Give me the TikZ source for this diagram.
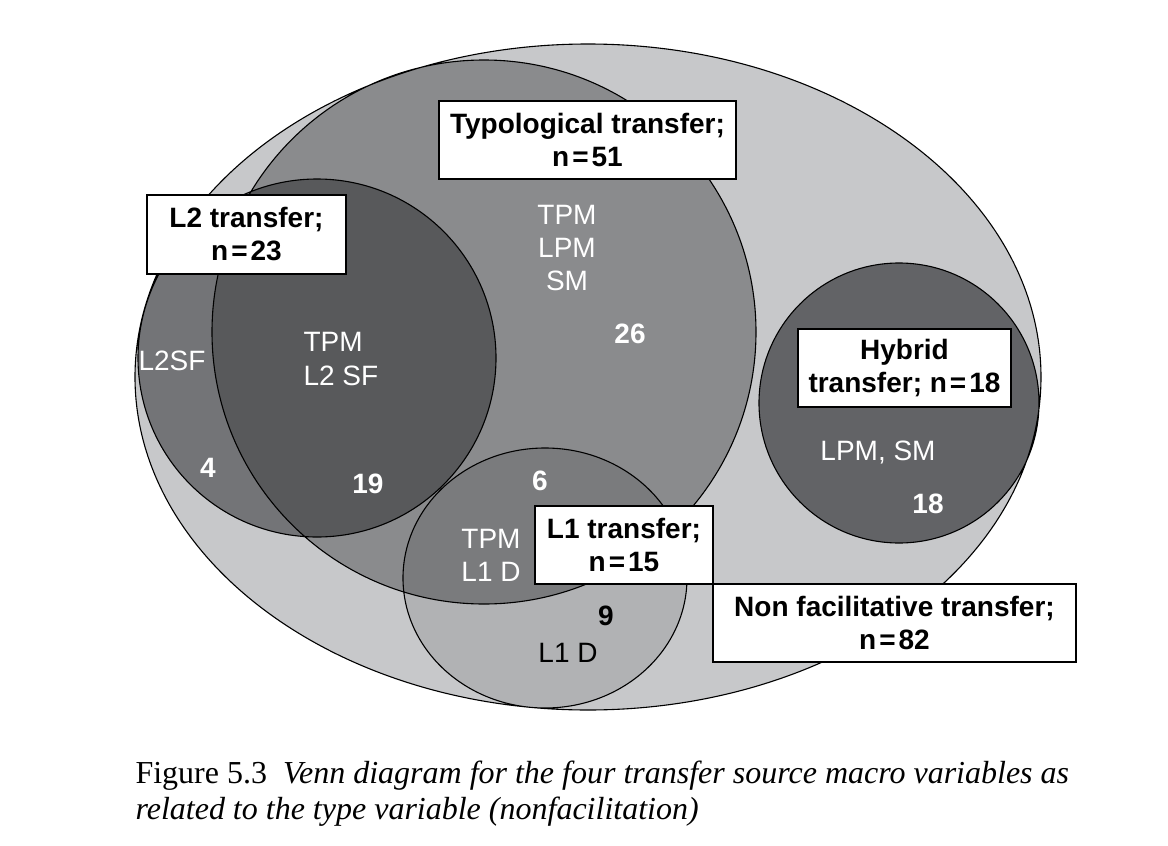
\documentclass[tikz,border=0pt]{standalone}
\usepackage{fontspec}
\setmainfont{Liberation Serif}
\setsansfont{Liberation Sans}
\usetikzlibrary{positioning}

\definecolor{nonfacgray}{HTML}{C7C8CA}
\definecolor{typogray}{HTML}{8A8B8D}
\definecolor{ltwogray}{HTML}{737477}
\definecolor{ltwotypogray}{HTML}{58595B}
\definecolor{lonegray}{HTML}{B1B2B4}
\definecolor{lonetypogray}{HTML}{7A7B7D}
\definecolor{hybridgray}{HTML}{626366}

\newcommand{\nonfacset}{(588,377) ellipse [x radius=453pt, y radius=333pt]}
\newcommand{\typoset}{(484,332) circle [radius=272pt]}
\newcommand{\ltwoset}{(317,358) circle [radius=179pt]}
\newcommand{\loneset}{(545,578) ellipse [x radius=142pt, y radius=130pt]}
\newcommand{\hybridset}{(899,403) circle [radius=140pt]}

\begin{document}
\begin{tikzpicture}[x=1pt, y=-1pt, line width=1.1pt]
      \tikzstyle{setbox}=[draw=black, fill=white, align=center, inner sep=0pt,
                          font=\sffamily\bfseries\fontsize{28}{33}\selectfont]
      \tikzstyle{setlabel}=[text=white, inner sep=0pt, font=\sffamily\fontsize{28}{33}\selectfont]
      \tikzstyle{setcount}=[text=white, inner sep=0pt, font=\sffamily\bfseries\fontsize{28}{33}\selectfont]
      \useasboundingbox (0,0) rectangle (1168,846);

      % filled regions
      \fill[nonfacgray] \nonfacset;
      \fill[typogray] \typoset;
      \fill[ltwogray] \ltwoset;
      \fill[lonegray] \loneset;
      \begin{scope}
        \clip \typoset;
        \fill[ltwotypogray] \ltwoset;
        \fill[lonetypogray] \loneset;
      \end{scope}
      \fill[hybridgray] \hybridset;

      % outlines
      \draw \nonfacset \typoset \ltwoset \loneset \hybridset;

      % set names
      \node[setbox, minimum width=297pt, minimum height=78pt] (typobox)   at (587.5,140) {Typological transfer;\\n\kern3pt=\kern3pt51};
      \node[setbox, minimum width=199pt, minimum height=79pt] (ltwobox)   at (246.5,234.5) {L2 transfer;\\n\kern3pt=\kern3pt23};
      \node[setbox, minimum width=213pt, minimum height=78pt] (hybridbox) at (904.5,368) {Hybrid\\transfer; n\kern3pt=\kern3pt18};
      \node[setbox, minimum width=178pt, minimum height=78pt] (lonebox)   at (624,545) {L1 transfer;\\n\kern3pt=\kern3pt15};
      \node[setbox, minimum width=363pt, minimum height=78pt] (nonfacbox) at (894.5,623) {Non facilitative transfer;\\n\kern3pt=\kern3pt82};

      % contents and counts
      \node[setlabel, align=center]            (typolabel)     at (567,248.5) {TPM\\LPM\\SM};
      \node[setcount, anchor=base]             (typocount)     at (630,343) {26};
      \node[setlabel, anchor=base]             (ltwolabel)     at (172,370) {L2SF};
      \node[setcount, anchor=base]             (ltwocount)     at (208,477) {4};
      \node[setlabel, align=left, anchor=west] (ltwotypolabel) at (303,359) {TPM\\L2 SF};
      \node[setcount, anchor=base]             (ltwotypocount) at (368,493) {19};
      \node[setcount, anchor=base]             (lonetypocount) at (540,490) {6};
      \node[setlabel, align=center]            (lonetypolabel) at (491,555) {TPM\\L1 D};
      \node[setcount, text=black, anchor=base] (lonecount)     at (606,625) {9};
      \node[setlabel, text=black, anchor=base] (lonelabel)     at (568,662) {L1 D};
      \node[setlabel, anchor=base]             (hybridlabel)   at (878,460) {LPM, SM};
      \node[setcount, anchor=base]             (hybridcount)   at (928,513) {18};

      % caption
      \node[anchor=base west, inner sep=0pt, font=\fontsize{32}{36}\selectfont] (caption) at (135,783)
        {Figure 5.3\enspace\textit{Venn diagram for the four transfer source macro variables as}};
      \node[anchor=base west, inner sep=0pt, font=\fontsize{32}{36}\selectfont] (captionb) at (135,819)
        {\textit{related to the type variable (nonfacilitation)}};
\end{tikzpicture}
\end{document}
